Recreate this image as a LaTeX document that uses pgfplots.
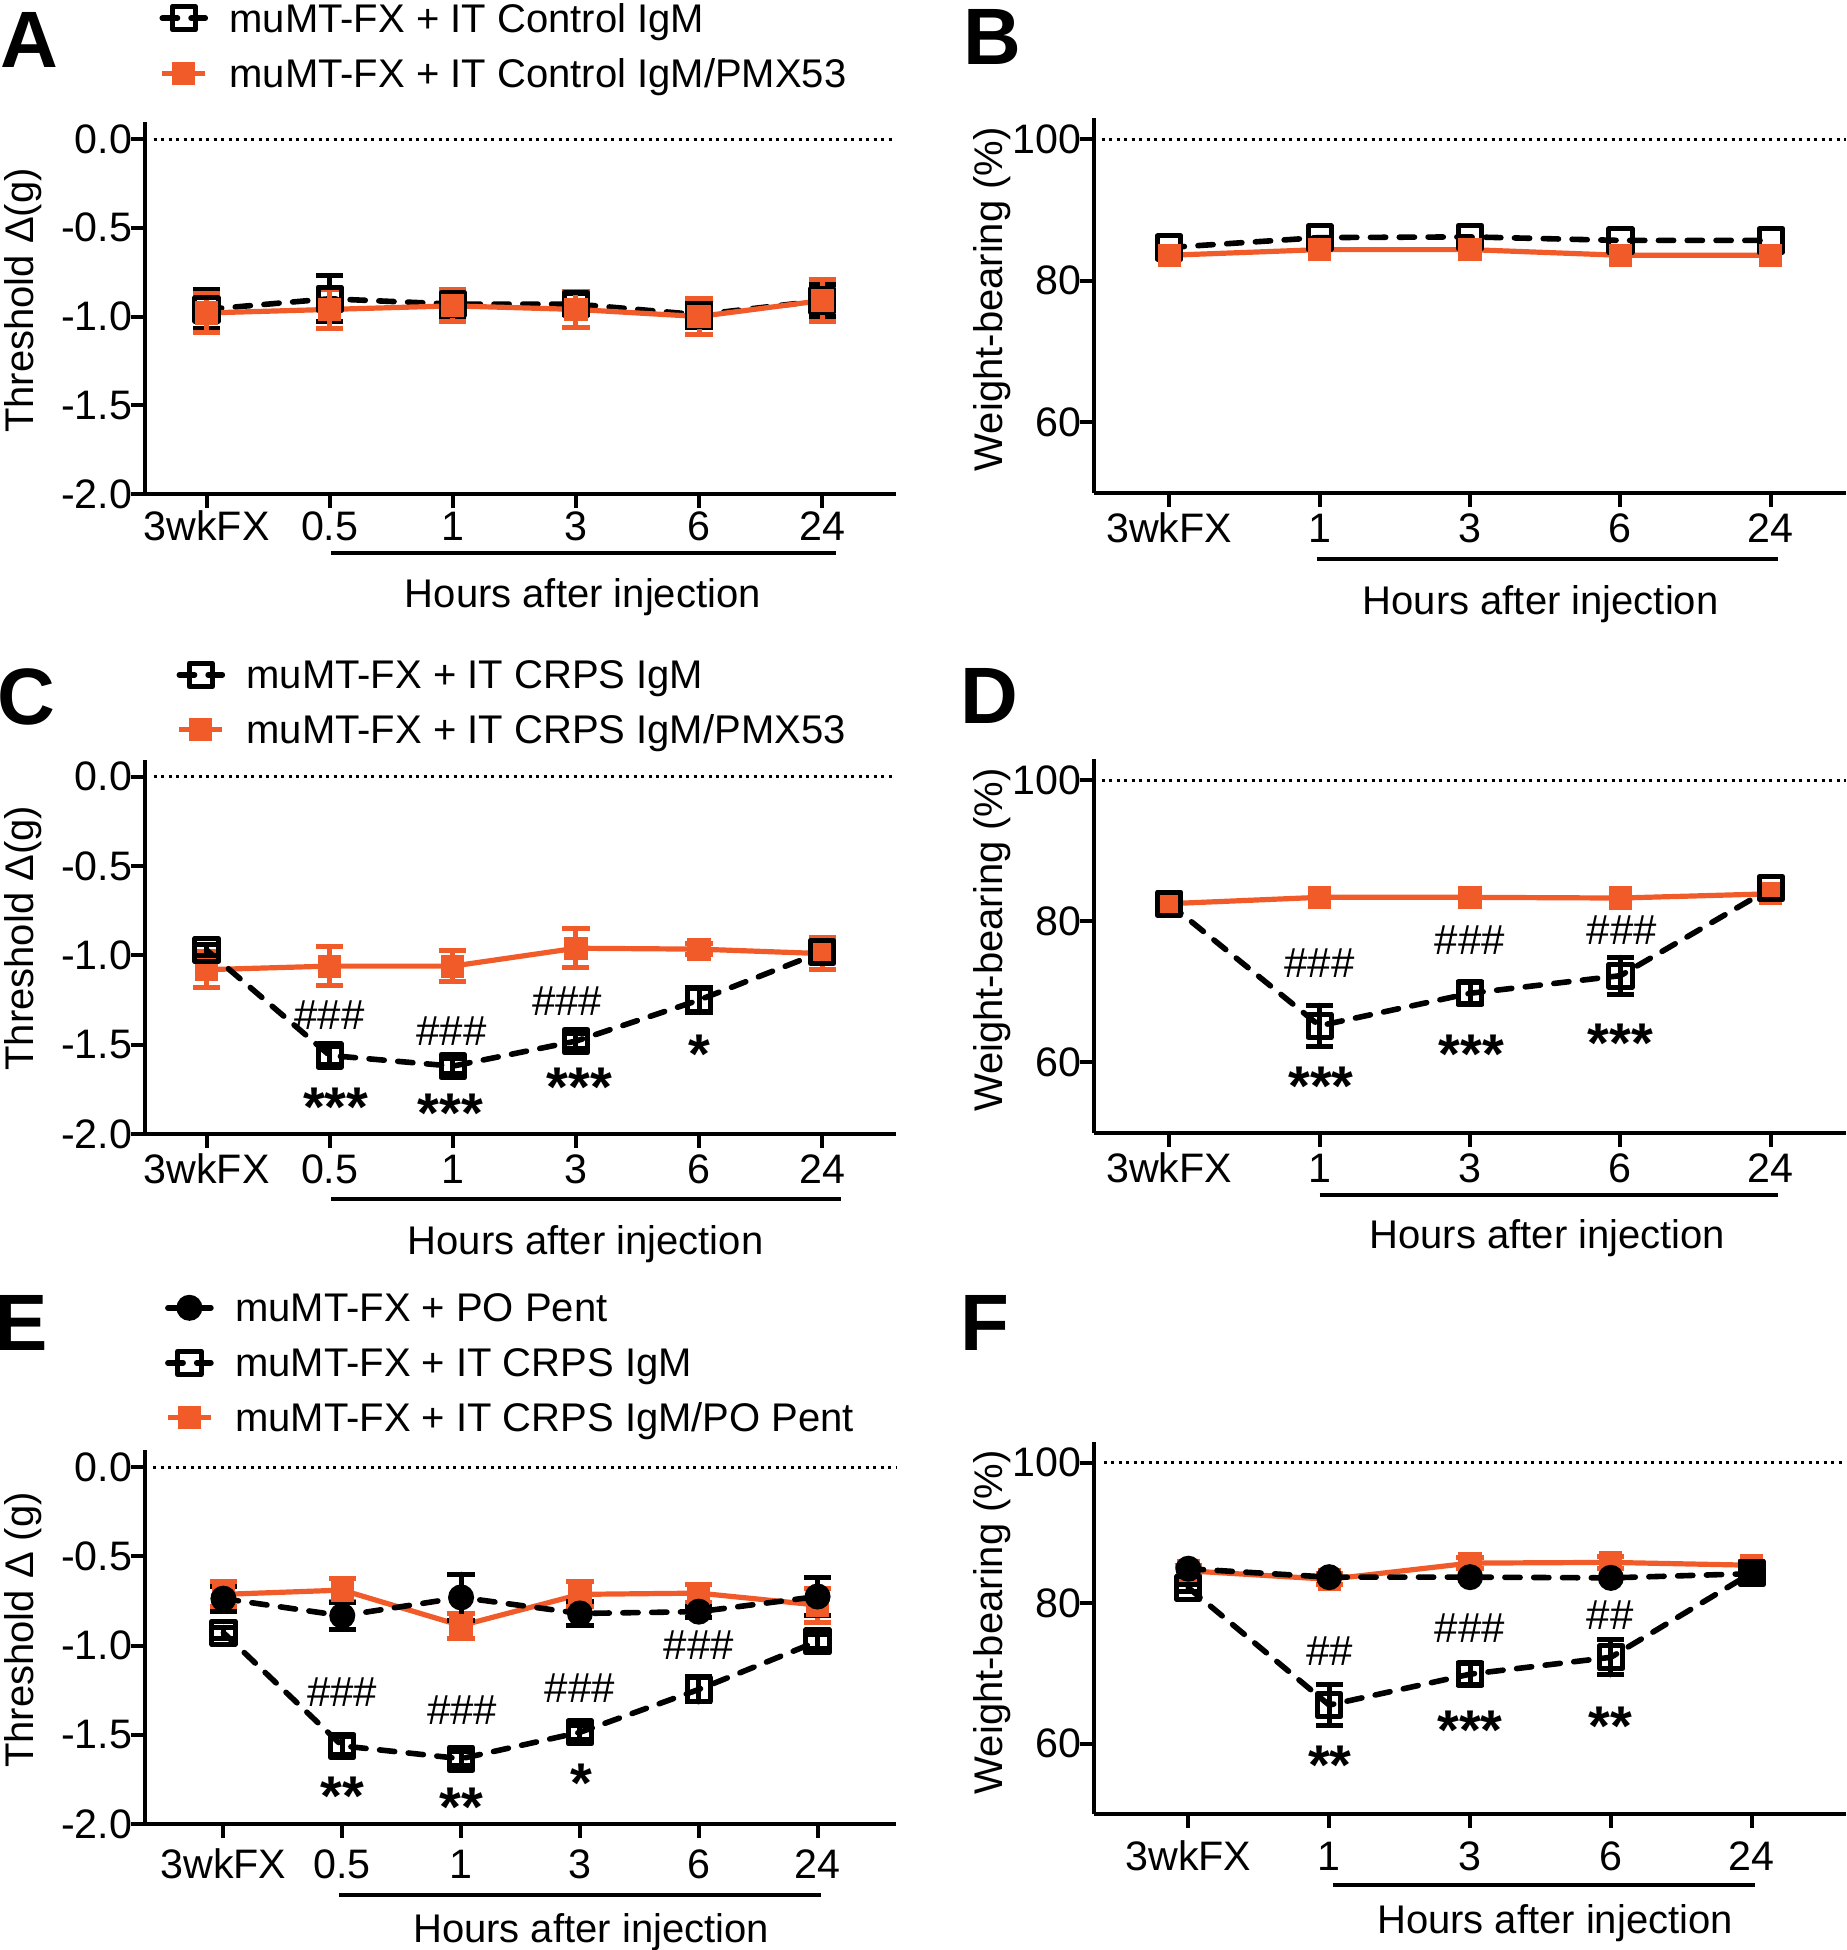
\documentclass[border=0pt]{standalone}
\usepackage{fontspec}
\setmainfont{Liberation Sans}
\usepackage{pgfplots}
\pgfplotsset{compat=1.18}
\definecolor{orng}{RGB}{241,90,41}
\tikzset{
  ast/.style={font=\fontsize{14}{14}\bfseries\selectfont, inner sep=0pt, yshift=-3pt},
  hsh/.style={font=\fontsize{10.5}{12}\selectfont, inner sep=0pt},
  plab/.style={anchor=base west, inner sep=0pt, font=\fontsize{20}{20}\bfseries\selectfont},
}
\pgfplotsset{
  base/.style={
    scale only axis, clip=false,
    axis x line*=bottom, axis y line*=left,
    axis line style={line width=1pt, black},
    every tick/.style={line width=1pt, black},
    tick align=outside, major tick length=3.5pt,
    font=\fontsize{10}{12}\selectfont,
    tick label style={font=\fontsize{10.3}{12}\selectfont},
    yticklabel style={anchor=east, inner xsep=0pt, xshift=0.5pt},
    xticklabel style={anchor=base, inner ysep=0pt},
    xlabel={Hours after injection},
    legend image code/.code={%
      \draw[mark repeat=2, mark phase=2, ##1] plot coordinates {(0pt,0pt) (5.375pt,0pt) (10.75pt,0pt)};
      \path (16.1pt,0pt);},
    legend style={draw=none, fill=none, inner sep=0pt, outer sep=0pt,
      anchor=north west, row sep=3.75pt, column sep=0pt,
      cells={anchor=west},
      nodes={inner sep=0pt, outer sep=0pt, text height=8.5pt, text depth=1.5pt,
             font=\fontsize{10}{12}\selectfont}},
  },
  thr/.style={base, xmin=-0.5, xmax=5.6, ymin=-2, ymax=0.096,
    ytick={-2,-1.5,-1,-0.5,0}, yticklabels={-2.0,-1.5,-1.0,-0.5,0.0},
    xtick={0,1,2,3,4,5}, xticklabels={3wkFX,0.5,1,3,6,24}, width=187.75pt},
  wb/.style={base, xmin=-0.5, xmax=4.5, ymin=50, ymax=103,
    ytick={60,80,100}, yticklabels={60,80,100},
    xtick={0,1,2,3,4}, xticklabels={3wkFX,1,3,6,24}, width=188pt},
  blk/.style={black, line width=1.4pt, line cap=round, dash pattern=on 3.8pt off 3.4pt,
    mark=square, mark size=2.9pt, mark options={solid, fill=none, line width=1.25pt, line join=round},
    error bars/.cd, y dir=both, y explicit,
    error bar style={line width=1.25pt, solid},
    error mark options={rotate=90, mark size=3.4pt, line width=1.25pt, solid}},
  org/.style={orng, line width=1.3pt, solid,
    mark=square*, mark size=2.6pt, mark options={solid, fill=orng, line width=0.6pt},
    error bars/.cd, y dir=both, y explicit,
    error bar style={line width=1.25pt, solid, orng},
    error mark options={rotate=90, mark size=3.4pt, line width=1.25pt, solid, orng}},
  circ/.style={black, line width=1.4pt, line cap=round, dash pattern=on 3.8pt off 3.4pt,
    mark=*, mark size=3pt, mark options={solid, fill=black, line width=0.5pt},
    error bars/.cd, y dir=both, y explicit,
    error bar style={line width=1.25pt, solid},
    error mark options={rotate=90, mark size=3.4pt, line width=1.25pt, solid}},
  refl/.style={black, line width=0.75pt, dash pattern=on 0.75pt off 1.125pt, forget plot},
}
\begin{document}
\begin{tikzpicture}
\useasboundingbox (0pt,0pt) rectangle (461.5pt,-487.5pt);
% ---------------- A ----------------
\begin{axis}[thr, at={(36.25pt,-123.5pt)}, anchor=south west, height=93pt,
  xticklabel style={yshift=-8.2pt},
  ylabel={Threshold Δ(g)}, ylabel style={at={(rel axis cs:-0.1625,0.52)}, anchor=center},
  xlabel style={at={(rel axis cs:0.583,-0.304)}, anchor=base},
  legend style={at={(rel axis cs:0.0193,1.333)}}]
\addplot[refl] coordinates {(-0.43,0) (5.6,0)};
\addplot[blk] coordinates {(0,-0.96) +- (0,0.11) (1,-0.90) +- (0,0.13) (2,-0.93) +- (0,0.07) (3,-0.93) +- (0,0.06) (4,-0.99) +- (0,0.07) (5,-0.91) +- (0,0.09)};
\addlegendentry{muMT-FX + IT Control IgM}
\addplot[org] coordinates {(0,-0.98) +- (0,0.11) (1,-0.96) +- (0,0.11) (2,-0.94) +- (0,0.09) (3,-0.96) +- (0,0.10) (4,-1.00) +- (0,0.10) (5,-0.91) +- (0,0.12)};
\addlegendentry{muMT-FX + IT Control IgM/PMX53}
\draw[line width=1.1pt] (rel axis cs:0.2477,-0.1586) -- (rel axis cs:0.920,-0.1586);
\end{axis}
% ---------------- B ----------------
\begin{axis}[wb, at={(273.5pt,-123.25pt)}, anchor=south west, height=93.75pt,
  xticklabel style={yshift=-8.8pt},
  ylabel={Weight-bearing (\%)}, ylabel style={at={(rel axis cs:-0.1356,0.517)}, anchor=center},
  xlabel style={at={(rel axis cs:0.594,-0.325)}, anchor=base}]
\addplot[refl] coordinates {(-0.45,100) (4.5,100)};
\addplot[blk] coordinates {(0,84.7) (1,86.1) (2,86.2) (3,85.7) (4,85.7)};
\addplot[org] coordinates {(0,83.6) (1,84.4) (2,84.4) (3,83.6) (4,83.6)};
\draw[line width=1.1pt] (rel axis cs:0.296,-0.176) -- (rel axis cs:0.909,-0.176);
\end{axis}
% ---------------- C ----------------
\begin{axis}[thr, at={(36.25pt,-283.5pt)}, anchor=south west, height=93.6pt,
  xticklabel style={yshift=-8.9pt},
  ylabel={Threshold Δ(g)}, ylabel style={at={(rel axis cs:-0.1625,0.523)}, anchor=center},
  xlabel style={at={(rel axis cs:0.5866,-0.3205)}, anchor=base},
  reverse legend,
  legend style={at={(rel axis cs:0.042,1.280)}}]
\addplot[refl] coordinates {(-0.43,0) (5.6,0)};
\addplot[org] coordinates {(0,-1.08) +- (0,0.10) (1,-1.06) +- (0,0.11) (2,-1.06) +- (0,0.085) (3,-0.96) +- (0,0.11) (4,-0.965) +- (0,0.03) (5,-0.99) +- (0,0.09)};
\addlegendentry{muMT-FX + IT CRPS IgM/PMX53}
\addplot[blk] coordinates {(0,-0.97) +- (0,0.03) (1,-1.56) +- (0,0.05) (2,-1.62) +- (0,0.04) (3,-1.48) +- (0,0.04) (4,-1.25) +- (0,0.07) (5,-0.98) +- (0,0.03)};
\addlegendentry{muMT-FX + IT CRPS IgM}
\node[hsh] at (axis cs:1.0,-1.337) {\#\#\#};
\node[ast] at (axis cs:1.05,-1.783) {***};
\node[hsh] at (axis cs:1.99,-1.424) {\#\#\#};
\node[ast] at (axis cs:1.98,-1.817) {***};
\node[hsh] at (axis cs:2.93,-1.257) {\#\#\#};
\node[ast] at (axis cs:3.03,-1.669) {***};
\node[ast] at (axis cs:4.0,-1.486) {*};
\draw[line width=1.1pt] (rel axis cs:0.2477,-0.1736) -- (rel axis cs:0.9268,-0.1736);
\end{axis}
% ---------------- D ----------------
\begin{axis}[wb, at={(273.5pt,-283.25pt)}, anchor=south west, height=93.5pt,
  xticklabel style={yshift=-8.9pt},
  ylabel={Weight-bearing (\%)}, ylabel style={at={(rel axis cs:-0.1356,0.516)}, anchor=center},
  xlabel style={at={(rel axis cs:0.603,-0.3075)}, anchor=base}]
\addplot[refl] coordinates {(-0.45,100) (4.5,100)};
\addplot[org] coordinates {(0,82.5) (1,83.4) (2,83.4) (3,83.3) (4,83.9)};
\addplot[blk] coordinates {(0,82.5) +- (0,0.5) (1,65.2) +- (0,2.9) (2,69.8) +- (0,1.5) (3,72.3) +- (0,2.6) (4,84.7) +- (0,0.5)};
\node[hsh] at (axis cs:1.0,74.1) {\#\#\#};
\node[ast] at (axis cs:1.01,58.3) {***};
\node[hsh] at (axis cs:2.0,77.3) {\#\#\#};
\node[ast] at (axis cs:2.01,62.9) {***};
\node[hsh] at (axis cs:3.01,78.7) {\#\#\#};
\node[ast] at (axis cs:3.0,64.4) {***};
\draw[line width=1.1pt] (rel axis cs:0.2999,-0.1658) -- (rel axis cs:0.909,-0.1658);
\end{axis}
% ---------------- E ----------------
\begin{axis}[thr, xmin=-0.66, xmax=5.66, at={(36.25pt,-456pt)}, anchor=south west, height=93.5pt,
  xticklabel style={yshift=-10.0pt},
  ylabel={Threshold Δ (g)}, ylabel style={at={(rel axis cs:-0.1625,0.519)}, anchor=center},
  xlabel style={at={(rel axis cs:0.594,-0.3155)}, anchor=base},
  reverse legend,
  legend style={at={(rel axis cs:0.0268,1.4337)}}]
\addplot[refl] coordinates {(-0.59,0) (5.66,0)};
\addplot[org] coordinates {(0,-0.713) +- (0,0.07) (1,-0.689) +- (0,0.065) (2,-0.888) +- (0,0.07) (3,-0.713) +- (0,0.07) (4,-0.706) +- (0,0.05) (5,-0.773) +- (0,0.095)};
\addlegendentry{muMT-FX + IT CRPS IgM/PO Pent}
\addplot[blk] coordinates {(0,-0.928) +- (0,0.03) (1,-1.562) +- (0,0.05) (2,-1.634) +- (0,0.04) (3,-1.486) +- (0,0.04) (4,-1.246) +- (0,0.07) (5,-0.976) +- (0,0.04)};
\addlegendentry{muMT-FX + IT CRPS IgM}
\addplot[circ] coordinates {(0,-0.737) +- (0,0.07) (1,-0.833) +- (0,0.075) (2,-0.73) +- (0,0.13) (3,-0.82) +- (0,0.067) (4,-0.81) +- (0,0.03) (5,-0.725) +- (0,0.105)};
\addlegendentry{muMT-FX + PO Pent}
\node[hsh] at (axis cs:1.0,-1.263) {\#\#\#};
\node[ast] at (axis cs:1.0,-1.777) {**};
\node[hsh] at (axis cs:2.01,-1.359) {\#\#\#};
\node[ast] at (axis cs:2.0,-1.837) {**};
\node[hsh] at (axis cs:3.0,-1.239) {\#\#\#};
\node[ast] at (axis cs:3.01,-1.706) {*};
\node[hsh] at (axis cs:4.0,-1.0) {\#\#\#};
\draw[line width=1.1pt] (rel axis cs:0.258,-0.19) -- (rel axis cs:0.900,-0.19);
\end{axis}
% ---------------- F ----------------
\begin{axis}[wb, xmin=-0.67, xmax=4.67, at={(273.5pt,-453.5pt)}, anchor=south west, height=93.125pt,
  xticklabel style={yshift=-10.6pt},
  ylabel={Weight-bearing (\%)}, ylabel style={at={(rel axis cs:-0.1356,0.515)}, anchor=center},
  xlabel style={at={(rel axis cs:0.613,-0.322)}, anchor=base}]
\addplot[refl] coordinates {(-0.6,100) (4.67,100)};
\addplot[org] coordinates {(0,84.6) +- (0,0.8) (1,83.4) +- (0,0.8) (2,85.7) +- (0,0.8) (3,85.8) +- (0,0.8) (4,85.4) +- (0,0.5)};
\addplot[blk] coordinates {(0,82.2) +- (0,0.5) (1,65.5) +- (0,2.9) (2,69.9) +- (0,1.5) (3,72.3) +- (0,2.5) (4,84.3) +- (0,0.5)};
\addplot[circ] coordinates {(0,84.9) (1,83.7) (2,83.7) (3,83.6) (4,84.2)};
\node[hsh] at (axis cs:1.005,73.2) {\#\#};
\node[ast] at (axis cs:1.005,58.7) {**};
\node[hsh] at (axis cs:2.0,76.5) {\#\#\#};
\node[ast] at (axis cs:2.0,63.6) {***};
\node[hsh] at (axis cs:2.995,78.3) {\#\#};
\node[ast] at (axis cs:2.995,64.2) {**};
\draw[line width=1.1pt] (rel axis cs:0.3176,-0.19) -- (rel axis cs:0.8785,-0.19);
\end{axis}
% panel letters
\node[plab] at (0pt,-16.75pt) {A};
\node[plab] at (240.75pt,-16pt) {B};
\node[plab] at (-0.8pt,-181pt) {C};
\node[plab] at (240pt,-180.75pt) {D};
\node[plab] at (-1.5pt,-337.6pt) {E};
\node[plab] at (240pt,-337.6pt) {F};
\end{tikzpicture}
\end{document}
